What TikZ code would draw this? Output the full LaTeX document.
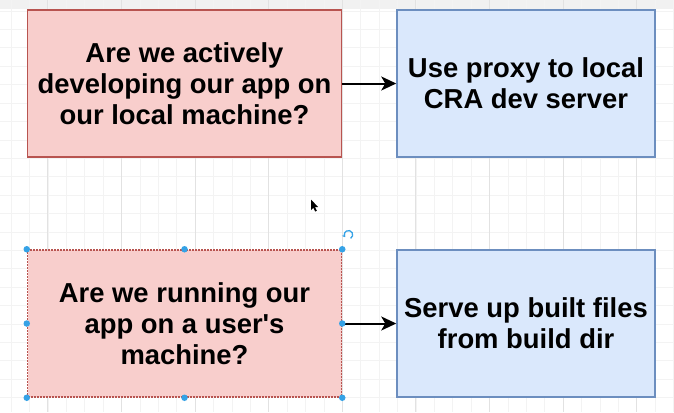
\documentclass[tikz,border=0pt]{standalone}
\usepackage{fontspec}
\setmainfont[Ligatures=TeXOff]{Liberation Sans}
\usetikzlibrary{arrows.meta}
\definecolor{redfill}{HTML}{F8CECC}
\definecolor{redline}{HTML}{B85450}
\definecolor{bluefill}{HTML}{DAE8FC}
\definecolor{blueline}{HTML}{6C8EBF}
\definecolor{handle}{HTML}{35A2E6}
\definecolor{gridminor}{HTML}{F3F3F3}
\definecolor{gridmajor}{HTML}{E2E2E2}
\definecolor{topband}{HTML}{F1F1F1}
\tikzset{
  qbox/.style={rectangle, fill=redfill, draw=redline, line width=1.5pt, minimum width=314pt, minimum height=147pt, inner sep=0pt, align=center, font=\fontsize{27.4}{31}\selectfont\bfseries},
  abox/.style={rectangle, fill=bluefill, draw=blueline, line width=1.5pt, minimum width=258pt, minimum height=147pt, inner sep=0pt, align=center, font=\fontsize{27.4}{31}\selectfont\bfseries},
  conn/.style={line width=2pt, -{Stealth[length=15pt,width=14pt,inset=4pt]}},
  hdl/.style={circle, fill=handle, inner sep=0pt, minimum size=6.5pt},
}
\begin{document}
\begin{tikzpicture}[x=1pt,y=-1pt]
\useasboundingbox (0,0) rectangle (674,412);
\fill[white] (0,0) rectangle (674,412);
\fill[topband] (0,0) rectangle (674,9);
% grid
\foreach \i in {-2,...,35} {
  \draw[gridminor, line width=0.8pt] ({636.7-18.4*\i},0) -- ({636.7-18.4*\i},412);
}
\foreach \j in {-10,...,13} {
  \draw[gridminor, line width=0.8pt] (0,{176.7+18.4*\j}) -- (674,{176.7+18.4*\j});
}
\foreach \i in {0,...,8} {
  \draw[gridmajor, line width=0.9pt] ({636.7-73.6*\i},0) -- ({636.7-73.6*\i},412);
}
% boxes
\node[qbox] (a) at (184.5,83.5) {Are we actively\\developing our app on\\our local machine?};
\node[abox] (b) at (526,83.5) {Use proxy to local\\CRA dev server};
\node[qbox, dash pattern=on 2pt off 1pt] (c) at (184.5,323.5) {Are we running our\\app on a user's\\machine?};
\node[abox] (d) at (526,323.5) {Serve up built files\\from build dir};
% connectors
\draw[conn] (a.east) -- (b.west);
\draw[conn] (c.east) -- (d.west);
% selection handles
\foreach \p in {north west,north,north east,west,east,south west,south,south east} {
  \node[hdl] at (c.\p) {};
}
% rotate icon
\coordinate (rot) at (348.5,242);
\draw[handle, line width=1.3pt, -{Stealth[length=3pt,width=4pt]}] ([shift={(60:4.2pt)}]rot) arc[start angle=-60, end angle=215, radius=4.2pt];
% cursor
\fill[black] (311,199.5) -- (311,210) -- (313.3,207.8) -- (315.2,211.5) -- (316.8,210.8) -- (315,207.2) -- (318.2,207.2) -- cycle;
\end{tikzpicture}
\end{document}
